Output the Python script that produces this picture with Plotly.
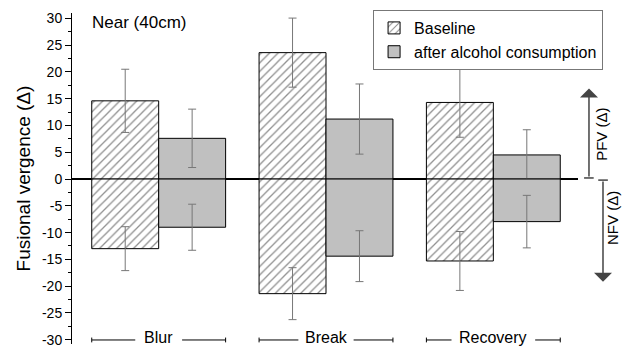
import plotly.graph_objects as go

categories = ["Blur", "Break", "Recovery"]
baseline_pfv = [14.6, 23.6, 14.3]
baseline_pfv_sd = [5.9, 6.45, 6.5]
alcohol_pfv = [7.6, 11.2, 4.5]
alcohol_pfv_sd = [5.45, 6.55, 4.7]
baseline_nfv = [-13.0, -21.4, -15.3]
baseline_nfv_sd = [4.1, 4.85, 5.5]
alcohol_nfv = [-9.0, -14.4, -7.95]
alcohol_nfv_sd = [4.3, 4.75, 4.9]
y_ticks = list(range(-30, 31, 5))
y_ticktext = [str(v) for v in y_ticks]

FONT = "Arial, Liberation Sans, sans-serif"
xpos = list(range(len(categories)))

hatch = dict(color="white", line=dict(color="black", width=1),
             pattern=dict(shape="/", fgcolor="#222222", bgcolor="white", size=6, solidity=0.22))
solid = dict(color="#c0c0c0", line=dict(color="black", width=1))
err_style = dict(type="data", symmetric=True, color="#777777", thickness=1, width=4)

fig = go.Figure()
fig.add_trace(go.Bar(x=xpos, y=baseline_pfv, name="Baseline", offsetgroup="b", legendgroup="b",
                     marker=hatch, error_y=dict(array=baseline_pfv_sd, **err_style)))
fig.add_trace(go.Bar(x=xpos, y=alcohol_pfv, name="after alcohol consumption", offsetgroup="a", legendgroup="a",
                     marker=solid, error_y=dict(array=alcohol_pfv_sd, **err_style)))
fig.add_trace(go.Bar(x=xpos, y=baseline_nfv, name="Baseline", offsetgroup="b", legendgroup="b", showlegend=False,
                     marker=hatch, error_y=dict(array=baseline_nfv_sd, **err_style)))
fig.add_trace(go.Bar(x=xpos, y=alcohol_nfv, name="after alcohol consumption", offsetgroup="a", legendgroup="a",
                     showlegend=False, marker=solid, error_y=dict(array=alcohol_nfv_sd, **err_style)))

shapes = []
annotations = []
half = 0.4
gaps = {"Blur": 0.14, "Break": 0.165, "Recovery": 0.25}
line_y = -30.05
for i, cat in enumerate(categories):
    g = gaps.get(cat, 0.15)
    for x0, x1 in [(i - half, i - g), (i + g, i + half)]:
        shapes.append(dict(type="line", xref="x", yref="y", x0=x0, x1=x1, y0=line_y, y1=line_y,
                           line=dict(color="black", width=1)))
    for xe in (i - half, i + half):
        shapes.append(dict(type="line", xref="x", yref="y", x0=xe, x1=xe, y0=line_y - 0.45, y1=line_y + 0.45,
                           line=dict(color="black", width=1)))
    annotations.append(dict(x=i, y=-29.6, xref="x", yref="y", text=cat, showarrow=False,
                            font=dict(size=16, color="black", family=FONT), xanchor="center", yanchor="middle"))

# PFV / NFV arrows
annotations.append(dict(x=1.0217, y=16.9, xref="paper", yref="y", ax=0, ay=0.2, axref="pixel", ayref="y",
                        showarrow=True, arrowhead=1, arrowsize=2, arrowwidth=1.5, arrowcolor="#444444", text=""))
annotations.append(dict(x=1.0494, y=-19.2, xref="paper", yref="y", ax=0, ay=-0.2, axref="pixel", ayref="y",
                        showarrow=True, arrowhead=1, arrowsize=2, arrowwidth=1.5, arrowcolor="#444444", text=""))
shapes.append(dict(type="line", xref="paper", yref="y", x0=1.012, x1=1.031, y0=0.2, y1=0.2,
                   line=dict(color="#444444", width=1.5)))
shapes.append(dict(type="line", xref="paper", yref="y", x0=1.040, x1=1.059, y0=-0.2, y1=-0.2,
                   line=dict(color="#444444", width=1.5)))
annotations.append(dict(x=1.045, y=8.4, xref="paper", yref="y", text="PFV (Δ)", textangle=-90, showarrow=False,
                        font=dict(size=15, color="black", family=FONT), xanchor="center", yanchor="middle"))
annotations.append(dict(x=1.067, y=-7.3, xref="paper", yref="y", text="NFV (Δ)", textangle=-90, showarrow=False,
                        font=dict(size=15, color="black", family=FONT), xanchor="center", yanchor="middle"))
annotations.append(dict(x=0.036, y=29.3, xref="paper", yref="y", text="Near (40cm)", showarrow=False,
                        font=dict(size=17, color="black", family=FONT), xanchor="left", yanchor="middle"))

fig.update_layout(
    width=622, height=347,
    margin=dict(l=72, r=44, t=13, b=3),
    paper_bgcolor="white", plot_bgcolor="white",
    barmode="group", bargap=0.2, bargroupgap=0,
    font=dict(family=FONT, color="black"),
    showlegend=True,
    legend=dict(x=0.595, y=1.009, xanchor="left", yanchor="top", bordercolor="#777777", borderwidth=1,
                font=dict(size=16, family=FONT, color="black"), bgcolor="white", tracegroupgap=0,
                itemwidth=30),
    shapes=shapes, annotations=annotations,
)
fig.update_xaxes(range=[-0.518, 2.506], showline=False, showticklabels=False, ticks="", showgrid=False,
                 zeroline=False, automargin=False)
fig.update_yaxes(range=[-30.8, 31], tickvals=y_ticks, ticktext=y_ticktext, ticks="outside", ticklen=6,
                 tickcolor="black", tickwidth=1, showline=True, linecolor="black", linewidth=1,
                 showgrid=False, zeroline=True, zerolinecolor="black", zerolinewidth=1.5,
                 minor=dict(dtick=2.5, ticks="outside", ticklen=3, tickcolor="black", showgrid=False),
                 tickfont=dict(size=14, family=FONT, color="black"), ticklabeloverflow="allow",
                 automargin=False,
                 title=dict(text="Fusional vergence (Δ)", font=dict(size=19, family=FONT, color="black"), standoff=6))

fig.write_html("out.html", config={"displayModeBar": False},
               post_script="document.body.style.margin='0';document.body.style.padding='0';")
